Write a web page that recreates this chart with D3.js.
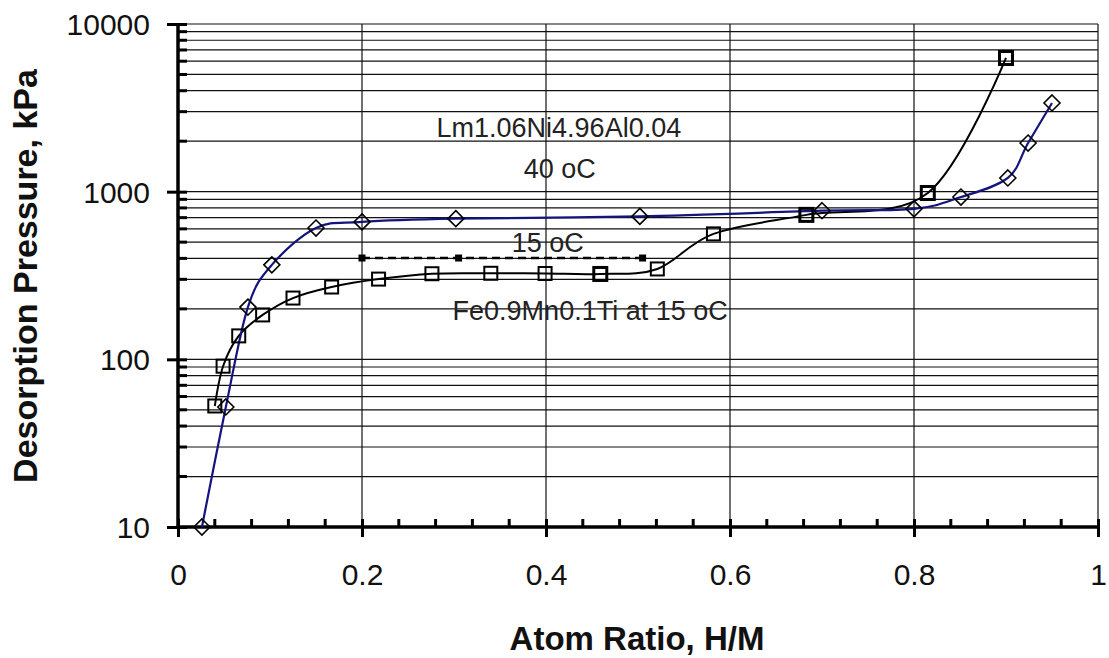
<!DOCTYPE html>
<html>
<head>
<meta charset="utf-8">
<script src="https://cdn.jsdelivr.net/npm/d3@7"></script>
<style>
  body { margin: 0; background: #fff; }
  text { font-family: Arial, "Liberation Sans", sans-serif; }
</style>
</head>
<body>
<div id="main"></div>
<script>
/*********************************************************
 * Data
 *********************************************************/

// Lm1.06Ni4.96Al0.04 at 40 oC (blue, diamonds)
const lmX = [0.026, 0.052, 0.076, 0.102, 0.15, 0.2, 0.302, 0.502, 0.7, 0.8, 0.851, 0.902, 0.924, 0.95];
const lmP = [10, 52, 205, 366, 607, 660, 690, 712, 770, 790, 929, 1207, 1950, 3380];

// Fe0.9Mn0.1Ti at 15 oC (black, squares)
const feX = [0.04, 0.049, 0.066, 0.092, 0.125, 0.167, 0.218, 0.276, 0.34, 0.399, 0.459, 0.521, 0.582, 0.683, 0.815, 0.9];
const feP = [52.7, 91, 138, 184, 232, 270, 301, 324, 326, 325, 323, 346, 560, 727, 982, 6270];

// dashed 15 oC plateau
const dashX = [0.2, 0.305, 0.505];
const dashP = [402, 402, 402];

const xTicks = [0, 0.2, 0.4, 0.6, 0.8, 1];
const xTickLabels = ['0', '0.2', '0.4', '0.6', '0.8', '1'];
const yTicks = [10, 100, 1000, 10000];
const yTickLabels = ['10', '100', '1000', '10000'];

const notes = [
  { text: 'Lm1.06Ni4.96Al0.04', x: 0.414, p: 2120 },
  { text: '40 oC', x: 0.415, p: 1210 },
  { text: '15 oC', x: 0.402, p: 436 },
  { text: 'Fe0.9Mn0.1Ti at 15 oC', x: 0.448, p: 172 }
];

/*********************************************************
 * Layout
 *********************************************************/

const svgWidth = 1109;
const svgHeight = 658;
const plot = { l: 178, r: 1098, t: 24, b: 527 };

const svg = d3
  .select('#main')
  .append('svg')
  .attr('width', svgWidth)
  .attr('height', svgHeight)
  .style('background', '#fff');

const x = d3.scaleLinear().domain([0, 1]).range([plot.l, plot.r]);
const y = d3.scaleLog().domain([10, 10000]).range([plot.b, plot.t]);

// minor log positions 2..9 in each decade
const yMinor = [];
[10, 100, 1000].forEach(d => {
  for (let k = 2; k <= 9; k++) yMinor.push(d * k);
});
const xMinor = d3.range(0, 25).map(i => i * 0.04).filter(v => Math.abs(v / 0.2 - Math.round(v / 0.2)) > 1e-6);

/*********************************************************
 * Grid
 *********************************************************/

const grid = svg.append('g').attr('class', 'grid');

grid
  .selectAll('.hgrid')
  .data(yTicks.concat(yMinor))
  .enter()
  .append('line')
  .attr('x1', plot.l)
  .attr('x2', plot.r)
  .attr('y1', d => y(d))
  .attr('y2', d => y(d))
  .attr('stroke', '#111')
  .attr('stroke-width', 1.2);

grid
  .selectAll('.vgrid')
  .data(xTicks.slice(1))
  .enter()
  .append('line')
  .attr('x1', d => x(d))
  .attr('x2', d => x(d))
  .attr('y1', plot.t)
  .attr('y2', plot.b)
  .attr('stroke', '#111')
  .attr('stroke-width', 1.2);

/*********************************************************
 * Axes
 *********************************************************/

// y axis: major ticks cross the line, minor ticks point inward
const yAxis = svg
  .append('g')
  .attr('transform', `translate(${plot.l},0)`)
  .call(d3.axisLeft(y).tickValues(yTicks).tickSize(11).tickFormat((d, i) => yTickLabels[i]));
yAxis.select('.domain').remove();
yAxis.selectAll('.tick line').attr('x2', 9).attr('x1', -11).attr('stroke', '#000').attr('stroke-width', 3);
yAxis
  .selectAll('.tick text')
  .attr('x', -28)
  .attr('dy', '0.35em')
  .style('font-size', '30px')
  .attr('fill', '#111');

svg
  .append('g')
  .selectAll('line')
  .data(yMinor)
  .enter()
  .append('line')
  .attr('x1', plot.l)
  .attr('x2', plot.l + 9)
  .attr('y1', d => y(d))
  .attr('y2', d => y(d))
  .attr('stroke', '#000')
  .attr('stroke-width', 3);

svg
  .append('line')
  .attr('x1', plot.l)
  .attr('x2', plot.l)
  .attr('y1', plot.t - 1)
  .attr('y2', plot.b + 1)
  .attr('stroke', '#000')
  .attr('stroke-width', 3.5);

// x axis
const xAxis = svg
  .append('g')
  .attr('transform', `translate(0,${plot.b})`)
  .call(d3.axisBottom(x).tickValues(xTicks).tickSize(10).tickFormat((d, i) => xTickLabels[i]));
xAxis.select('.domain').remove();
xAxis.selectAll('.tick line').attr('y1', -8).attr('y2', 10).attr('stroke', '#000').attr('stroke-width', 3);
xAxis
  .selectAll('.tick text')
  .attr('y', 58)
  .attr('dy', 0)
  .style('font-size', '30px')
  .attr('fill', '#111');

svg
  .append('g')
  .selectAll('line')
  .data(xMinor)
  .enter()
  .append('line')
  .attr('x1', d => x(d))
  .attr('x2', d => x(d))
  .attr('y1', plot.b)
  .attr('y2', plot.b - 8)
  .attr('stroke', '#000')
  .attr('stroke-width', 3);

svg
  .append('line')
  .attr('x1', plot.l - 1)
  .attr('x2', plot.r + 1)
  .attr('y1', plot.b)
  .attr('y2', plot.b)
  .attr('stroke', '#000')
  .attr('stroke-width', 3.5);

// axis titles
svg
  .append('text')
  .attr('x', 637)
  .attr('y', 650)
  .attr('text-anchor', 'middle')
  .style('font-size', '33px')
  .style('font-weight', 'bold')
  .attr('fill', '#111')
  .text('Atom Ratio, H/M');

svg
  .append('text')
  .attr('transform', 'translate(37,276) rotate(-90)')
  .attr('text-anchor', 'middle')
  .style('font-size', '34px')
  .style('font-weight', 'bold')
  .attr('fill', '#111')
  .text('Desorption Pressure, kPa');

/*********************************************************
 * Series
 *********************************************************/

const line = d3
  .line()
  .x(d => x(d[0]))
  .y(d => y(d[1]))
  .curve(d3.curveCardinal.tension(0));

const lmData = d3.zip(lmX, lmP);
const feData = d3.zip(feX, feP);
const dashData = d3.zip(dashX, dashP);

// dashed plateau line
svg
  .append('path')
  .attr('d', d3.line().x(d => x(d[0])).y(d => y(d[1]))(dashData))
  .attr('fill', 'none')
  .attr('stroke', '#000')
  .attr('stroke-width', 2.5)
  .attr('stroke-dasharray', '8,5');

svg
  .selectAll('.dashpt')
  .data(dashData)
  .enter()
  .append('rect')
  .attr('x', d => x(d[0]) - 3.5)
  .attr('y', d => y(d[1]) - 3.5)
  .attr('width', 7)
  .attr('height', 7)
  .attr('fill', '#000');

svg
  .append('path')
  .attr('d', line(feData))
  .attr('fill', 'none')
  .attr('stroke', '#000')
  .attr('stroke-width', 2);

svg
  .append('path')
  .attr('d', line(lmData))
  .attr('fill', 'none')
  .attr('stroke', '#14147f')
  .attr('stroke-width', 2.2);

// square markers
svg
  .selectAll('.sq')
  .data(feData)
  .enter()
  .append('rect')
  .attr('x', d => x(d[0]) - 6.5)
  .attr('y', d => y(d[1]) - 6.5)
  .attr('width', 13)
  .attr('height', 13)
  .attr('fill', 'none')
  .attr('stroke', '#000')
  .attr('stroke-width', (d, i) => (i >= 10 && i !== 11 && i !== 12 ? 3 : 2));

// diamond markers
svg
  .selectAll('.dm')
  .data(lmData)
  .enter()
  .append('path')
  .attr('d', d => {
    const cx = x(d[0]);
    const cy = y(d[1]);
    const r = 8;
    return `M${cx},${cy - r}L${cx + r},${cy}L${cx},${cy + r}L${cx - r},${cy}Z`;
  })
  .attr('fill', 'none')
  .attr('stroke', '#000')
  .attr('stroke-width', 1.6);

/*********************************************************
 * Annotations
 *********************************************************/

svg
  .selectAll('.note')
  .data(notes)
  .enter()
  .append('text')
  .attr('x', d => x(d.x))
  .attr('y', d => y(d.p))
  .attr('text-anchor', 'middle')
  .style('font-size', '27px')
  .attr('fill', '#222')
  .text(d => d.text);
</script>
</body>
</html>
